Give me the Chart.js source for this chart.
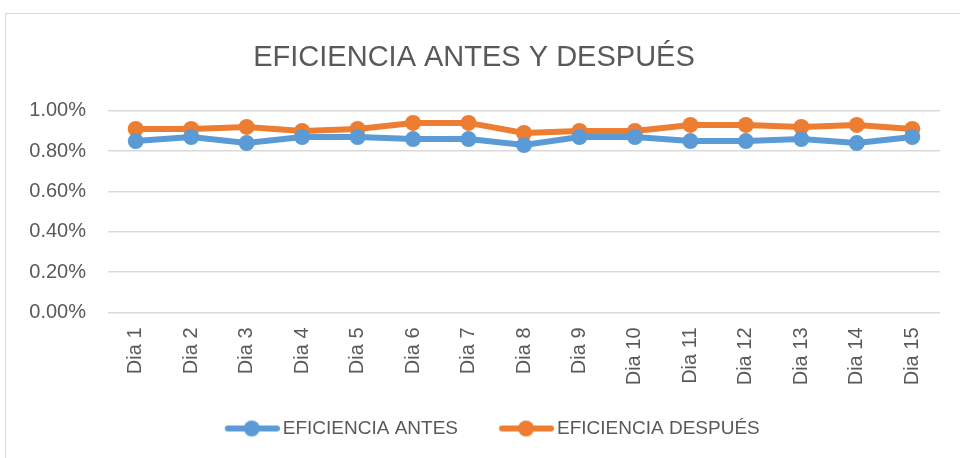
<!DOCTYPE html>
<html>
<head>
<meta charset="utf-8">
<script src="https://cdn.jsdelivr.net/npm/chart.js@4"></script>
<style>
    body { margin: 0; background: #fff; }
    #frame {
        position: absolute; left: 5px; top: 13px; width: 970px; height: 460px;
        border: 1px solid #d9d9d9; box-sizing: border-box;
    }
    #wrap { position: absolute; left: 0; top: 0; width: 960px; height: 458px; }
</style>
</head>
<body>
<div id="frame"></div>
<div id="wrap"><canvas id="eficiencia"></canvas></div>
<script>
let dias = ['Dia 1', 'Dia 2', 'Dia 3', 'Dia 4', 'Dia 5', 'Dia 6', 'Dia 7', 'Dia 8',
    'Dia 9', 'Dia 10', 'Dia 11', 'Dia 12', 'Dia 13', 'Dia 14', 'Dia 15'];
let antes = [0.85, 0.87, 0.84, 0.87, 0.87, 0.86, 0.86, 0.83, 0.87, 0.87, 0.85, 0.85, 0.86, 0.84, 0.87];
let despues = [0.91, 0.91, 0.92, 0.90, 0.91, 0.94, 0.94, 0.89, 0.90, 0.90, 0.93, 0.93, 0.92, 0.93, 0.91];
let yTicks = [0, 0.2, 0.4, 0.6, 0.8, 1.0];

const azul = '#5b9bd5';
const naranja = '#ed7d31';
const gris = '#595959';
const fuente = "'Liberation Sans', Arial, sans-serif";

// line-with-dot legend marker; the transparent strip on the left
// keeps some air between the two legend entries
function legendMarker(color) {
    const c = document.createElement('canvas');
    c.width = 98;
    c.height = 18;
    const g = c.getContext('2d');
    g.strokeStyle = color;
    g.lineWidth = 6;
    g.lineCap = 'round';
    g.beginPath();
    g.moveTo(46, 9);
    g.lineTo(95, 9);
    g.stroke();
    g.fillStyle = color;
    g.beginPath();
    g.arc(70, 9, 8, 0, Math.PI * 2);
    g.fill();
    return c;
}

function serie(label, data, color) {
    return {
        label: label,
        data: data,
        borderColor: color,
        backgroundColor: color,
        borderWidth: 6,
        pointRadius: 8,
        pointHoverRadius: 8,
        pointBorderWidth: 0,
        tension: 0,
    };
}

const ctx = document.getElementById('eficiencia').getContext('2d');
let myLineChart = new Chart(ctx, {
    type: 'line',
    data: {
        labels: dias,
        datasets: [
            serie('EFICIENCIA ANTES', antes, azul),
            serie('EFICIENCIA DESPUÉS', despues, naranja),
        ]
    },
    options: {
        responsive: true,
        maintainAspectRatio: false,
        animation: false,
        layout: { padding: { left: 8, right: 20, top: 41, bottom: 10 } },
        plugins: {
            title: {
                display: true,
                text: 'EFICIENCIA ANTES Y DESPUÉS',
                color: gris,
                font: { family: fuente, size: 29, weight: 'normal' },
                padding: { top: 0, bottom: 35 },
            },
            legend: {
                position: 'bottom',
                labels: {
                    color: gris,
                    font: { family: fuente, size: 19 },
                    usePointStyle: true,
                    pointStyleWidth: 85,
                    padding: 4.5,
                    generateLabels: chart => chart.data.datasets.map((ds, i) => ({
                        text: ds.label,
                        fontColor: gris,
                        pointStyle: legendMarker(ds.borderColor),
                        datasetIndex: i,
                        hidden: false,
                        lineWidth: 0,
                    })),
                },
            },
            tooltip: { enabled: false },
        },
        scales: {
            y: {
                min: 0,
                max: 1,
                afterBuildTicks: axis => { axis.ticks = yTicks.map(v => ({ value: v })); },
                afterFit: axis => { axis.width = 100; },
                border: { display: false },
                grid: { color: '#d9d9d9', lineWidth: 1.5, drawTicks: false },
                ticks: {
                    color: gris,
                    padding: 22,
                    font: { family: fuente, size: 20 },
                    callback: v => v.toFixed(2) + '%',
                },
            },
            x: {
                offset: true,
                afterFit: axis => { axis.height = 102; },
                border: { display: false },
                grid: { display: false },
                ticks: {
                    color: gris,
                    minRotation: 90,
                    maxRotation: 90,
                    padding: 7,
                    font: { family: fuente, size: 20 },
                },
            },
        },
    },
});
</script>
</body>
</html>
